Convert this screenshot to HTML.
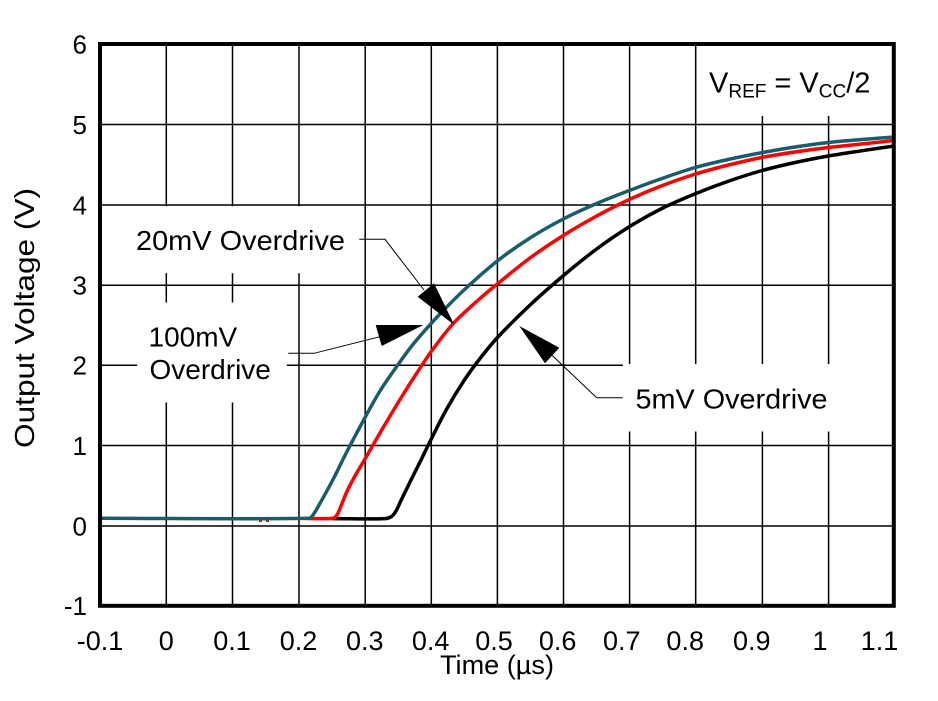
<!DOCTYPE html>
<html>
<head>
<meta charset="utf-8">
<style>
  html,body{margin:0;padding:0;background:#fff;}
  svg{display:block;}
  text{font-family:"Liberation Sans",Arial,sans-serif;fill:#000;}
</style>
</head>
<body>
<svg id="chart" width="938" height="701" viewBox="0 0 938 701" xmlns="http://www.w3.org/2000/svg">
  <rect x="0" y="0" width="938" height="701" fill="#fff"/>
  <!-- grid -->
  <g stroke="#000" stroke-width="1.5">
    <line x1="166.3" y1="44" x2="166.3" y2="606"/>
    <line x1="232.5" y1="44" x2="232.5" y2="606"/>
    <line x1="299" y1="44" x2="299" y2="606"/>
    <line x1="365.2" y1="44" x2="365.2" y2="606"/>
    <line x1="431.3" y1="44" x2="431.3" y2="606"/>
    <line x1="497.4" y1="44" x2="497.4" y2="606"/>
    <line x1="563.5" y1="44" x2="563.5" y2="606"/>
    <line x1="629.6" y1="44" x2="629.6" y2="606"/>
    <line x1="695.7" y1="44" x2="695.7" y2="606"/>
    <line x1="762.4" y1="44" x2="762.4" y2="606"/>
    <line x1="828.6" y1="44" x2="828.6" y2="606"/>
    <line x1="100" y1="124.5" x2="894" y2="124.5"/>
    <line x1="100" y1="205" x2="894" y2="205"/>
    <line x1="100" y1="285.2" x2="894" y2="285.2"/>
    <line x1="100" y1="365.3" x2="894" y2="365.3"/>
    <line x1="100" y1="445.5" x2="894" y2="445.5"/>
    <line x1="100" y1="526" x2="894" y2="526"/>
  </g>
  <!-- white label boxes -->
  <g fill="#fff">
    <rect x="102" y="206.2" width="255" height="67"/>
    <rect x="137" y="302.5" width="150" height="100"/>
    <rect x="623" y="364" width="270" height="67.5"/>
    <rect x="697" y="46" width="195" height="70"/>
  </g>

  <!-- curves -->
  <g fill="none" stroke-width="3.5" stroke-linejoin="round" stroke-linecap="round">
    <polyline class="sm" stroke="#000" points="333,518.6 384.9,518.6 391.5,516.5 396,511 401,500.5 410,482 420,462 431.3,439 446.7,409 464.4,380 480,358.5 497.5,337.5 530.6,304.5 563.5,275.5 596.6,249 629.7,226.5 662.8,208 695.9,193.5 729,181 762.1,170.5 795.2,162.5 828.3,156 861.4,150.8 892,146.3"/>
    <polyline class="sm" stroke="#ff0000" points="306,518.5 333,518.2 337,515 341,506 346.7,492 355,476 365.3,458.5 380,433 396.7,405 413.3,378.5 431.3,351.5 453.3,323.5 480,298.5 497.3,284 530,258 563.3,235.5 596.7,216 629.3,199.5 662.4,185.5 695.5,174 728.6,165 761.8,157.5 795,152 828.3,147.5 861.4,144 892,140.8"/>
    <rect x="259" y="519" width="3" height="3" fill="#ff0000" stroke="none"/>
    <rect x="266" y="519" width="3" height="3" fill="#ff0000" stroke="none"/>
    <polyline class="sm" stroke="#1b5c6c" points="102,518.3 309,518.3 313,515 320,503.3 333.3,479 346.7,452 365.3,417 380,391 396.7,366.5 413.3,344 431.3,323.3 446.7,307 466.7,287.5 497.3,261 530,238 563.3,219 596.7,203.5 629.3,190.5 663.3,178 695.3,167.5 728,159.5 762.7,152.5 795,147 828.7,142.5 862,139.5 892,137.2"/>
  </g>

  <!-- annotations -->
  <g stroke="#000" stroke-width="1" fill="none">
    <polyline points="359.3,239.3 385,239.3 424,290"/>
    <polyline points="288.3,353.3 314,353.3 380,336.7"/>
    <polyline points="551.7,355 596.7,397.7 622.7,397.7"/>
  </g>
  <g fill="#000">
    <polygon points="417.7,296.7 434,283.3 454.3,325"/>
    <polygon points="375.7,325 381.7,346 423.3,325"/>
    <polygon points="519.3,326 559.3,347.7 545,363.3"/>
  </g>

  <!-- border -->
  <rect x="100" y="44" width="793.8" height="561.8" fill="none" stroke="#000" stroke-width="4"/>

  <!-- annotation text -->
  <text x="136" y="250" font-size="28" textLength="209" lengthAdjust="spacingAndGlyphs">20mV Overdrive</text>
  <text x="148.5" y="346.7" font-size="28">100mV</text>
  <text x="149.5" y="379" font-size="28">Overdrive</text>
  <text x="635.5" y="408.3" font-size="28" textLength="192" lengthAdjust="spacingAndGlyphs">5mV Overdrive</text>
  <text x="709" y="92.7" font-size="29">V<tspan font-size="19" dy="5">REF</tspan><tspan dy="-5"> = V</tspan><tspan font-size="19" dy="5">CC</tspan><tspan dy="-5">/2</tspan></text>

  <!-- y tick labels -->
  <g font-size="26" text-anchor="end">
    <text x="87" y="53.3">6</text>
    <text x="87" y="133.8">5</text>
    <text x="87" y="214.3">4</text>
    <text x="87" y="294.5">3</text>
    <text x="87" y="374.6">2</text>
    <text x="87" y="454.8">1</text>
    <text x="87" y="535.3">0</text>
    <text x="87" y="615">-1</text>
  </g>
  <!-- x tick labels -->
  <g font-size="27" text-anchor="middle">
    <text x="100" y="650">-0.1</text>
    <text x="166.3" y="650">0</text>
    <text x="232" y="650">0.1</text>
    <text x="298.5" y="650">0.2</text>
    <text x="364.8" y="650">0.3</text>
    <text x="430.6" y="650">0.4</text>
    <text x="494" y="650">0.5</text>
    <text x="557.6" y="650">0.6</text>
    <text x="621.8" y="650">0.7</text>
    <text x="685.2" y="650">0.8</text>
    <text x="751.8" y="650">0.9</text>
    <text x="820" y="650">1</text>
    <text x="879.5" y="650">1.1</text>
  </g>

  <!-- axis titles -->
  <text x="497" y="674" font-size="27" text-anchor="middle" textLength="114" lengthAdjust="spacingAndGlyphs">Time (µs)</text>
  <text transform="translate(34,318) rotate(-90)" font-size="28" text-anchor="middle" textLength="260" lengthAdjust="spacingAndGlyphs">Output Voltage (V)</text>
</svg>
<script>
(function(){
  var NS="http://www.w3.org/2000/svg";
  var pls=document.querySelectorAll("polyline.sm");
  for(var k=0;k<pls.length;k++){
    var pl=pls[k];
    var raw=pl.getAttribute("points").trim().split(/\s+/);
    var p=raw.map(function(s){var a=s.split(",");return [parseFloat(a[0]),parseFloat(a[1])];});
    var n=p.length, t=[];
    for(var i=0;i<n;i++){
      var a=p[i>0?i-1:i], b=p[i<n-1?i+1:i];
      var dx=b[0]-a[0], dy=b[1]-a[1], L=Math.sqrt(dx*dx+dy*dy)||1;
      t.push([dx/L,dy/L]);
    }
    var d="M"+p[0][0]+","+p[0][1];
    for(var i=0;i<n-1;i++){
      var sx=p[i+1][0]-p[i][0], sy=p[i+1][1]-p[i][1];
      var s=Math.sqrt(sx*sx+sy*sy)/3;
      var c1=[p[i][0]+t[i][0]*s, p[i][1]+t[i][1]*s];
      var c2=[p[i+1][0]-t[i+1][0]*s, p[i+1][1]-t[i+1][1]*s];
      d+=" C"+c1[0].toFixed(2)+","+c1[1].toFixed(2)+" "+c2[0].toFixed(2)+","+c2[1].toFixed(2)+" "+p[i+1][0]+","+p[i+1][1];
    }
    var path=document.createElementNS(NS,"path");
    path.setAttribute("d",d);
    path.setAttribute("stroke",pl.getAttribute("stroke"));
    path.setAttribute("fill","none");
    pl.parentNode.replaceChild(path,pl);
  }
})();
</script>
</body>
</html>
